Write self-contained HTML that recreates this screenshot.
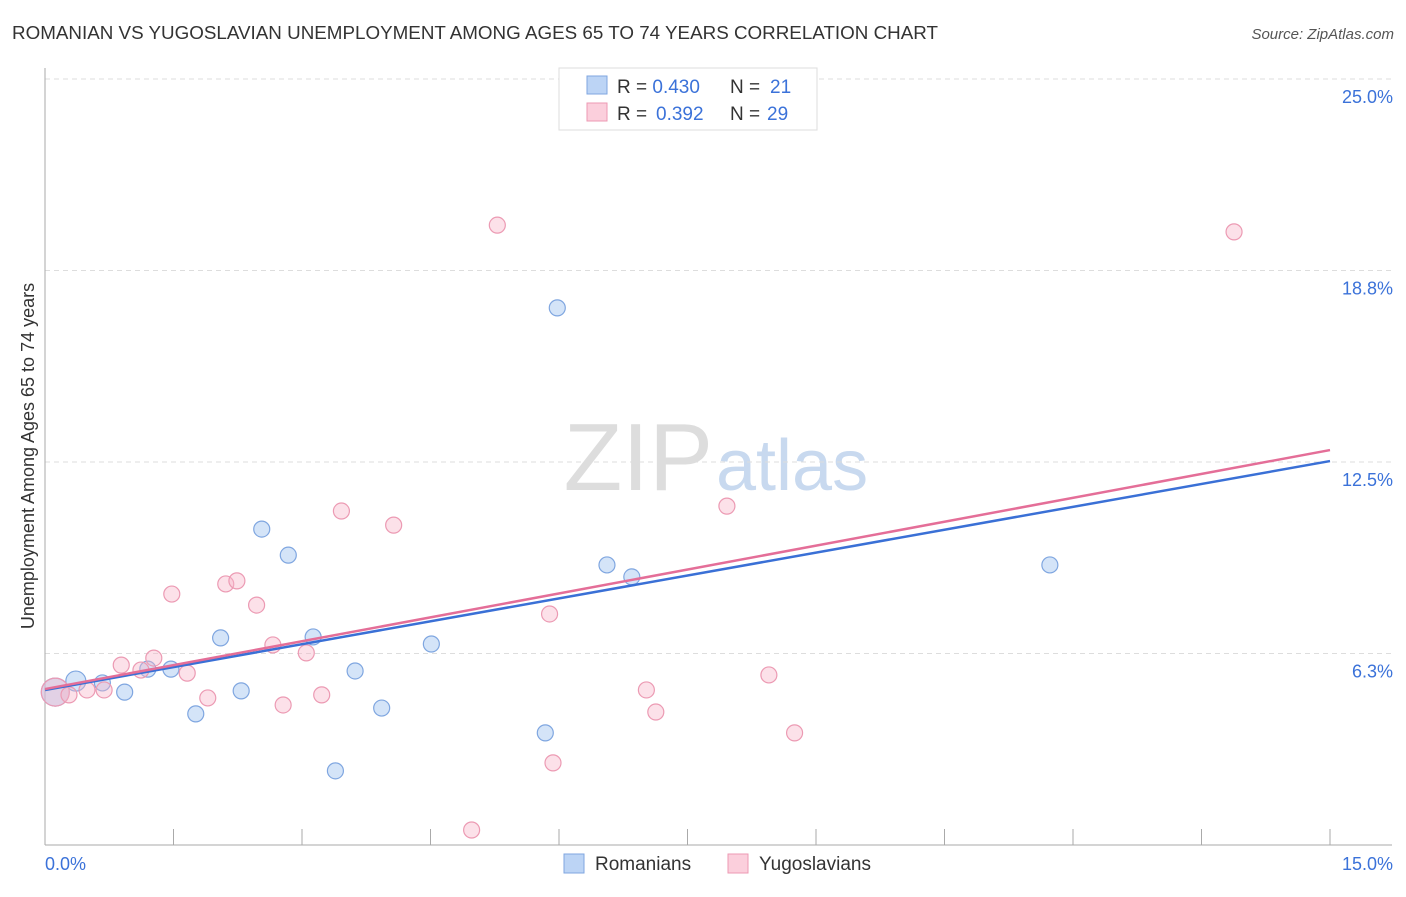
<!DOCTYPE html>
<html><head><meta charset="utf-8"><style>
body{margin:0;background:#fff;font-family:"Liberation Sans",sans-serif;}
svg text{font-family:"Liberation Sans",sans-serif;}
</style></head><body>
<svg id="chart" width="1406" height="892">
<text x="12" y="39" font-size="18" fill="#333" textLength="926" lengthAdjust="spacingAndGlyphs">ROMANIAN VS YUGOSLAVIAN UNEMPLOYMENT AMONG AGES 65 TO 74 YEARS CORRELATION CHART</text>
<text x="1394" y="39" font-size="15" fill="#555" text-anchor="end" font-style="italic">Source: ZipAtlas.com</text>
<text x="713" y="490" font-size="96" fill="#ddd" text-anchor="end" font-family="Liberation Serif">ZIP</text>
<text x="716" y="490" font-size="72" fill="#c8d9ef">atlas</text>
<text transform="translate(34,456) rotate(-90)" font-size="18" fill="#333" text-anchor="middle">Unemployment Among Ages 65 to 74 years</text>
<g id="grid"></g><g id="pts"></g><g id="lines"></g>
<g>
<rect x="559" y="68" width="258" height="62" fill="#fff" stroke="#ddd"/>
<rect x="587" y="76" width="20" height="18" fill="#bcd4f5" stroke="#7fa6e0"/>
<rect x="587" y="103" width="20" height="18" fill="#fbcfdc" stroke="#ec9ab3"/>
<text x="617" y="93" font-size="19" fill="#333">R = <tspan fill="#3b72d9">0.430</tspan><tspan x="730">N = </tspan><tspan fill="#3b72d9" x="770">21</tspan></text>
<text x="617" y="120" font-size="19" fill="#333">R = <tspan fill="#3b72d9" x="656">0.392</tspan><tspan x="730">N = </tspan><tspan fill="#3b72d9" x="767">29</tspan></text>
</g>
<g>
<rect x="564" y="854" width="20" height="19" fill="#bcd4f5" stroke="#7fa6e0"/>
<text x="595" y="870" font-size="19" fill="#333">Romanians</text>
<rect x="728" y="854" width="20" height="19" fill="#fbcfdc" stroke="#ec9ab3"/>
<text x="759" y="870" font-size="19" fill="#333">Yugoslavians</text>
</g>
</svg>
<script>
const yTicks=[25,18.75,12.5,6.25];
const yTickLabels=["25.0%","18.8%","12.5%","6.3%"];
const xTicks=[1.5,3,4.5,6,7.5,9,10.5,12,13.5,15];
const romX=[0.12,0.36,0.67,0.93,1.20,1.47,1.76,2.05,2.29,2.53,2.84,3.13,3.39,3.62,3.93,4.51,5.84,5.98,6.56,6.85,11.73];
const romY=[4.99,5.35,5.29,4.99,5.74,5.74,4.28,6.76,5.03,10.31,9.46,6.79,2.42,5.68,4.47,6.56,3.66,17.53,9.14,8.75,9.14];
const romR=[14,10,8,8,8,8,8,8,8,8,8,8,8,8,8,8,8,8,8,8,8];
const yugX=[0.12,0.28,0.49,0.69,0.89,1.12,1.27,1.48,1.66,1.90,2.11,2.24,2.47,2.66,2.78,3.05,3.23,3.46,4.07,4.98,5.28,5.89,5.93,7.02,7.13,7.96,8.45,8.75,13.88];
const yugY=[4.99,4.90,5.06,5.06,5.87,5.71,6.10,8.19,5.61,4.80,8.52,8.62,7.83,6.53,4.57,6.27,4.90,10.90,10.44,0.49,20.23,7.54,2.68,5.06,4.34,11.06,5.55,3.66,20.01];
const yugR=[14,8,8,8,8,8,8,8,8,8,8,8,8,8,8,8,8,8,8,8,8,8,8,8,8,8,8,8,8];
const romLine=[5.06,12.53];
const yugLine=[5.09,12.89];
const X=v=>45+v/15*1285, Y=v=>845-v*30.64;
const NS="http://www.w3.org/2000/svg";
function mk(t,a,p){const e=document.createElementNS(NS,t);for(const k in a)e.setAttribute(k,a[k]);p.appendChild(e);return e;}
const g=document.getElementById('grid');
mk('line',{x1:45,x2:1392,y1:79,y2:79,stroke:'#ddd','stroke-dasharray':'5,4'},g);
yTicks.forEach((t,i)=>{
 const l=mk('line',{x1:45,x2:1392,y1:Y(t),y2:Y(t),stroke:'#ddd','stroke-dasharray':'5,4'},g);
 
 
 const tx=mk('text',{x:1393,y:Y(t)+24,'font-size':18,fill:'#3b72d9','text-anchor':'end'},g);
 tx.textContent=yTickLabels[i];
 
 
});
mk('line',{x1:45,x2:45,y1:68,y2:845,stroke:'#aaa'},g);
mk('line',{x1:45,x2:1392,y1:845,y2:845,stroke:'#aaa'},g);
xTicks.forEach(t=>{const l=mk('line',{x1:X(t),x2:X(t),y1:829,y2:845,stroke:'#aaa'},g);
 
 });
let a=mk('text',{x:45,y:870,'font-size':18,fill:'#3b72d9'},g);a.textContent='0.0%';


a=mk('text',{x:1393,y:870,'font-size':18,fill:'#3b72d9','text-anchor':'end'},g);a.textContent='15.0%';


const p=document.getElementById('pts');
romX.forEach((x,i)=>{const c=mk('circle',{cx:X(x),cy:Y(romY[i]),r:romR[i],fill:'rgba(160,195,240,0.45)',stroke:'#7fa6e0','stroke-width':1.2},p);
 
 });
yugX.forEach((x,i)=>{const c=mk('circle',{cx:X(x),cy:Y(yugY[i]),r:yugR[i],fill:'rgba(248,180,200,0.4)',stroke:'#ec9ab3','stroke-width':1.2},p);
 
 });
const L=document.getElementById('lines');
let ln=mk('line',{x1:X(0),y1:Y(romLine[0]),x2:X(15),y2:Y(romLine[1]),stroke:'#3a70d6','stroke-width':2.5},L);


ln=mk('line',{x1:X(0),y1:Y(yugLine[0]),x2:X(15),y2:Y(yugLine[1]),stroke:'#e46e98','stroke-width':2.5},L);


</script>
</body></html>
